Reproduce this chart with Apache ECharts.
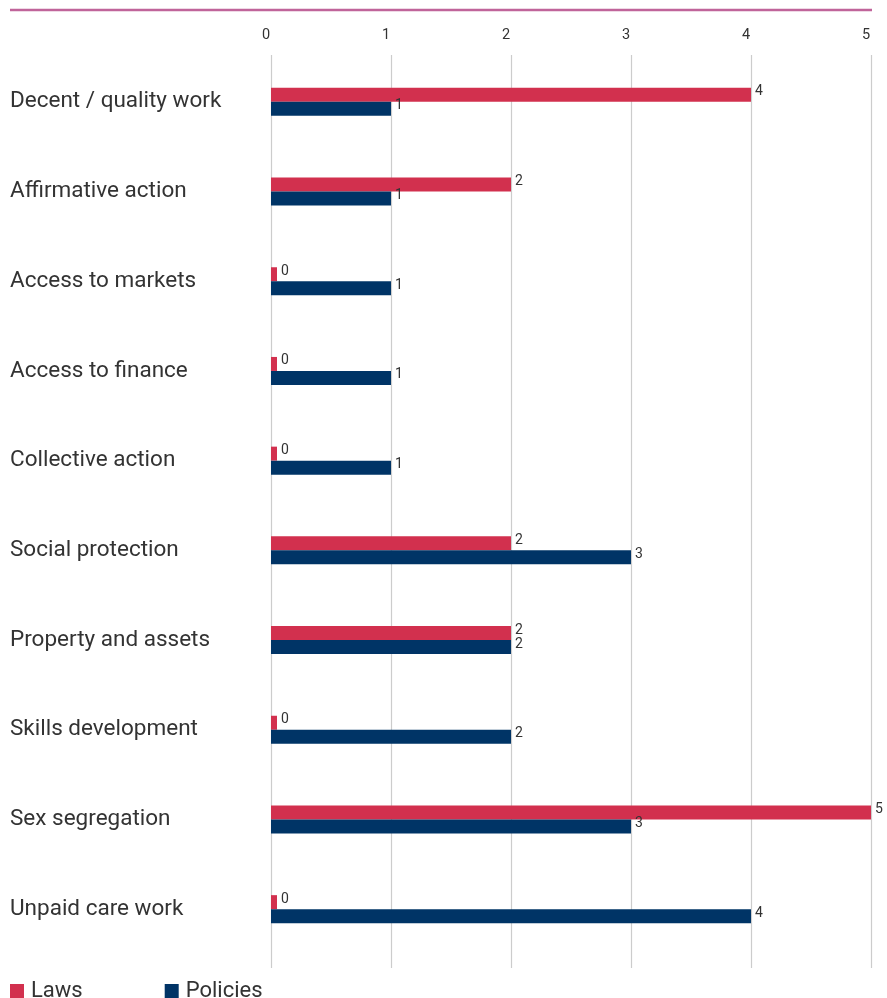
<!DOCTYPE html>
<html>
<head>
<meta charset="utf-8">
<script src="https://cdn.jsdelivr.net/npm/echarts@6/dist/echarts.min.js"></script>
<style>
  html, body { margin: 0; padding: 0; background: #fff; }
  #chart { width: 887px; height: 998px; }
</style>
</head>
<body>
<div id="chart"></div>
<script>
const categories = [
  "Decent / quality work",
  "Affirmative action",
  "Access to markets",
  "Access to finance",
  "Collective action",
  "Social protection",
  "Property and assets",
  "Skills development",
  "Sex segregation",
  "Unpaid care work"
];
const laws = [4, 2, 0, 0, 0, 2, 2, 0, 5, 0];
const policies = [1, 1, 1, 1, 1, 3, 2, 2, 3, 4];

const FONT = "Roboto, 'Noto Sans', sans-serif";
const LAWS_COLOR = "#d2304e";
const POLICIES_COLOR = "#003466";

const chart = echarts.init(document.getElementById("chart"));

const valueLabel = {
  show: true,
  position: "right",
  distance: 4,
  offset: [0, -3],
  color: "#333",
  fontSize: 14,
  fontFamily: FONT
};

chart.setOption({
  animation: false,
  textStyle: { fontFamily: FONT },
  graphic: [{
    type: "line",
    shape: { x1: 10, y1: 10, x2: 872, y2: 10 },
    style: { stroke: "#c0649a", lineWidth: 2.5 }
  }],
  legend: {
    left: 10,
    top: 980,
    padding: 0,
    itemWidth: 14,
    itemHeight: 14,
    itemGap: 82,
    icon: "rect",
    textStyle: { fontSize: 22, color: "#333", fontFamily: FONT, padding: [0, 0, 0, 2] },
    data: ["Laws", "Policies"]
  },
  grid: [
    { left: 271, right: 16, top: 55, height: 913 },
    { left: 271, right: 16, top: 57, height: 897 }
  ],
  xAxis: [
    {
      gridIndex: 0,
      type: "value",
      position: "top",
      min: 0,
      max: 5,
      interval: 1,
      axisLine: { show: false },
      axisTick: { show: false },
      axisLabel: { color: "#333", fontSize: 14.5, margin: 12, fontFamily: FONT, padding: [0, 10, 0, 0] },
      splitLine: { show: true, lineStyle: { color: "#cccccc", width: 1.2 } }
    },
    {
      gridIndex: 1,
      type: "value",
      min: 0,
      max: 5,
      show: false
    }
  ],
  yAxis: [
    {
      gridIndex: 0,
      type: "category",
      data: categories,
      show: false
    },
    {
      gridIndex: 1,
      type: "category",
      data: categories,
      inverse: true,
      axisLine: { show: false },
      axisTick: { show: false },
      splitLine: { show: false },
      axisLabel: {
        align: "left",
        margin: 261,
        color: "#333",
        fontSize: 22.5,
        fontFamily: FONT,
        padding: [0, 0, 13, 0]
      }
    }
  ],
  series: [
    {
      name: "Laws",
      type: "bar",
      xAxisIndex: 1,
      yAxisIndex: 1,
      data: laws,
      barWidth: 14,
      barGap: "0%",
      barMinHeight: 6,
      itemStyle: { color: LAWS_COLOR },
      label: valueLabel
    },
    {
      name: "Policies",
      type: "bar",
      xAxisIndex: 1,
      yAxisIndex: 1,
      data: policies,
      barWidth: 14,
      barGap: "0%",
      itemStyle: { color: POLICIES_COLOR },
      label: valueLabel
    }
  ]
});
</script>
</body>
</html>
